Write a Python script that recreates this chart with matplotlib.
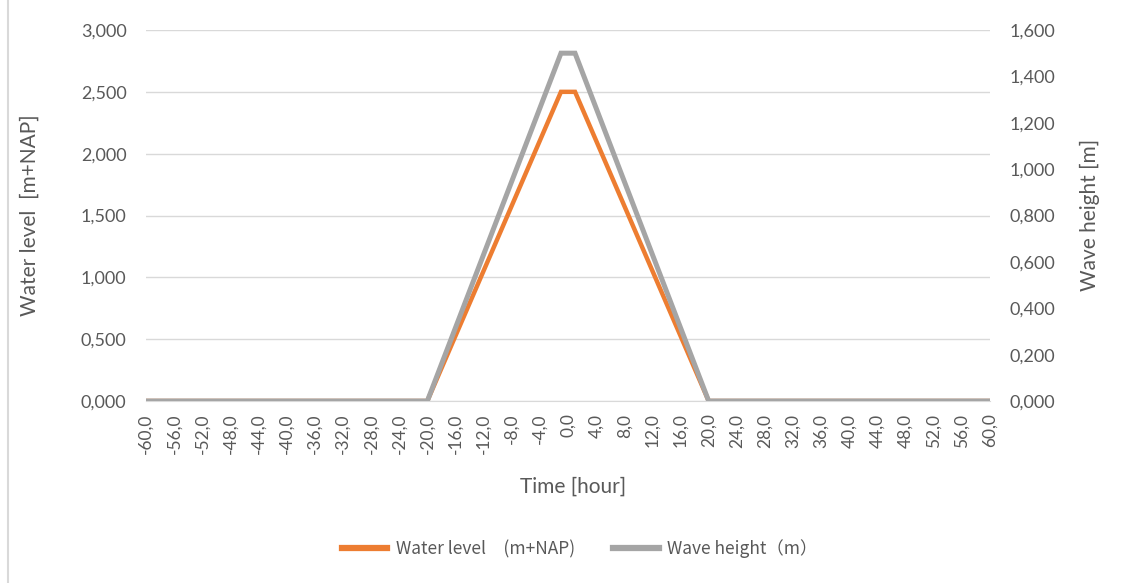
import matplotlib
matplotlib.use("Agg")
import matplotlib.pyplot as plt
from matplotlib.ticker import FixedLocator, FuncFormatter
from matplotlib.lines import Line2D

# ---- data ----
time_h = [-60, -20, -1, 1, 20, 60]
water_level = [0.0, 0.0, 2.5, 2.5, 0.0, 0.0]
wave_height = [0.0, 0.0, 1.5, 1.5, 0.0, 0.0]
x_ticks = list(range(-60, 61, 4))
left_ticks = [0.0, 0.5, 1.0, 1.5, 2.0, 2.5, 3.0]
right_ticks = [0.0, 0.2, 0.4, 0.6, 0.8, 1.0, 1.2, 1.4, 1.6]
legend_labels = ["Water level\u3000(m+NAP)", "Wave height\uff08m\uff09"]

ORANGE = "#ED7D31"
GRAY = "#A5A5A5"
GRID = "#D9D9D9"
TXT = "#595959"
TICKFONT = ["Lato", "DejaVu Sans"]

W, H = 1124, 583
fig = plt.figure(figsize=(W/100, H/100), dpi=100)
L, R, T, B = 146, 990, 30, 401
ax = fig.add_axes([L/W, 1-B/H, (R-L)/W, (B-T)/H])
ax2 = ax.twinx()

def comma(v, nd):
    return f"{v:.{nd}f}".replace(".", ",")

ax.plot(time_h, water_level, color=ORANGE, lw=3.2, solid_joinstyle="miter", zorder=3)
ax2.plot(time_h, wave_height, color=GRAY, lw=3.6, solid_joinstyle="miter", zorder=3)

ax.set_xlim(-60, 60)
ax.set_ylim(0, 3.0)
ax2.set_ylim(0, 1.6)
ax.yaxis.set_major_locator(FixedLocator(left_ticks))
ax2.yaxis.set_major_locator(FixedLocator(right_ticks))
ax.xaxis.set_major_locator(FixedLocator(x_ticks))
ax.yaxis.set_major_formatter(FuncFormatter(lambda v, p: comma(v, 3)))
ax2.yaxis.set_major_formatter(FuncFormatter(lambda v, p: comma(v, 3)))
ax.xaxis.set_major_formatter(FuncFormatter(lambda v, p: comma(v, 1)))

ax.grid(axis="y", color=GRID, lw=1.0, zorder=0)
ax.set_axisbelow(True)
for a in (ax, ax2):
    for s in a.spines.values():
        s.set_visible(False)
ax.spines["bottom"].set_visible(True)
ax.spines["bottom"].set_color(GRID)

ax.tick_params(axis="y", length=0, pad=14, labelsize=13, labelcolor=TXT)
ax2.tick_params(axis="y", length=0, pad=14, labelsize=13, labelcolor=TXT)
ax.tick_params(axis="x", length=0, pad=9, labelsize=12.5, labelcolor=TXT, labelrotation=90)
for lab in ax.get_xticklabels() + ax.get_yticklabels() + ax2.get_yticklabels():
    lab.set_family(TICKFONT)

ax.set_ylabel("Water level  [m+NAP]", fontsize=15, color=TXT, family=TICKFONT)
ax2.set_ylabel("Wave height [m]", fontsize=15, color=TXT, family=TICKFONT)
ax.set_xlabel("Time [hour]", fontsize=15, color=TXT, family=TICKFONT)
ax.yaxis.set_label_coords((30-L)/(R-L), (B-215)/(B-T))
ax2.yaxis.set_label_coords((1090-L)/(R-L), (B-215)/(B-T))
ax.xaxis.set_label_coords((573-L)/(R-L), -(487-B)/(B-T))
ax.yaxis.label.set_va("center")
ax2.yaxis.label.set_va("center")
ax.xaxis.label.set_va("center")

handles = [Line2D([], [], color=ORANGE, lw=4.5), Line2D([], [], color=GRAY, lw=4.5)]
leg = fig.legend(handles, legend_labels, loc="center", bbox_to_anchor=(580/W, 1-549/H),
                 ncol=2, frameon=False, handlelength=2.6, columnspacing=2.2, handletextpad=0.5,
                 prop={"family": ["Noto Sans CJK JP", "DejaVu Sans"], "size": 12.5})
for t in leg.get_texts():
    t.set_color(TXT)

fig.add_artist(Line2D([8/W, 8/W], [0, 1], color=GRID, lw=1.5, transform=fig.transFigure))

fig.savefig("out.png", dpi=100, facecolor="white")
